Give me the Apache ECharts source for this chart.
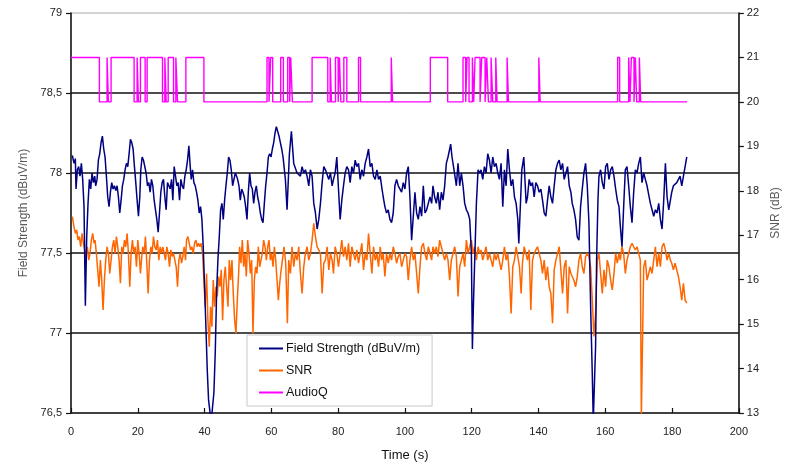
<!DOCTYPE html>
<html>
<head>
<meta charset="utf-8">
<script src="https://cdn.jsdelivr.net/npm/echarts@6/dist/echarts.min.js"></script>
<style>
  html, body { margin: 0; padding: 0; background: #fff; }
  #chart { width: 790px; height: 470px; }
</style>
</head>
<body>
<div id="chart"></div>
<script>
// Field strength measurement (dBuV/m), left axis
const fsTime = [0.4,0.9,1.3,1.5,1.9,2.3,2.7,3.1,3.5,3.9,4.3,4.7,5.1,5.5,5.9,6.3,6.7,7.1,7.4,7.8,8.2,8.6,9.0,9.4,9.8,10.2,10.6,11.0,11.4,11.8,12.2,12.6,13.0,13.4,13.8,14.2,14.6,15.0,15.4,15.8,16.2,16.6,17.0,17.4,17.8,18.2,18.6,19.0,19.4,19.8,20.2,20.6,20.9,21.3,21.7,22.1,22.5,22.9,23.3,23.7,24.1,24.5,24.9,25.3,25.7,26.1,26.5,26.9,27.3,27.7,28.1,28.5,28.9,29.3,29.7,30.1,30.5,30.9,31.3,31.7,32.1,32.5,32.9,33.3,33.7,34.1,34.5,34.9,35.3,35.7,36.0,36.4,36.8,37.2,37.6,38.0,38.4,38.8,39.2,39.6,40.0,40.4,40.8,41.2,41.6,42.0,42.4,42.8,43.2,43.6,44.0,44.4,44.8,45.2,45.6,46.0,46.4,46.8,47.2,47.6,48.0,48.4,48.8,49.2,49.6,49.9,50.3,50.7,51.1,51.5,51.9,52.3,52.7,53.1,53.5,53.9,54.3,54.7,55.1,55.5,55.9,56.3,56.7,57.1,57.5,57.9,58.3,58.7,59.1,59.5,59.9,60.3,60.7,61.1,61.5,61.9,62.3,62.7,63.1,63.5,63.8,64.2,64.7,65.4,66.0,66.7,67.2,67.7,68.2,68.7,69.2,69.7,70.2,70.7,71.2,71.7,72.2,72.7,73.2,73.7,74.2,74.7,75.2,75.7,76.2,76.7,77.2,77.7,78.2,78.6,79.1,79.6,80.1,80.6,81.1,81.6,82.1,82.6,83.1,83.6,84.1,84.6,85.1,85.6,86.1,86.6,87.1,87.6,88.1,88.6,89.1,89.6,90.1,90.6,91.1,91.6,92.1,92.6,93.0,93.5,94.0,94.5,95.0,95.5,96.0,96.5,97.0,97.5,98.0,98.5,99.0,99.5,100.0,100.5,101.0,101.5,102.0,102.5,103.0,103.5,104.0,104.5,105.0,105.5,106.0,106.5,107.0,107.5,108.0,108.4,108.9,109.4,109.9,110.4,110.9,111.4,111.9,112.4,112.9,113.4,113.7,114.1,114.7,115.4,115.9,116.4,116.9,117.4,117.9,118.4,118.9,119.4,119.9,120.2,120.5,120.9,121.4,121.9,122.4,122.8,123.3,123.8,124.3,124.8,125.3,125.8,126.3,126.8,127.3,127.8,128.3,128.8,129.3,129.8,130.3,130.8,131.3,131.8,132.3,132.8,133.3,133.8,134.1,134.6,135.0,135.6,136.0,136.3,136.7,137.2,137.7,138.2,138.7,139.2,139.7,140.2,140.7,141.2,141.7,142.2,142.7,143.2,143.7,144.2,144.7,145.2,145.7,146.2,146.7,147.2,147.7,148.2,148.7,149.2,149.7,150.1,150.6,151.1,151.6,152.1,152.6,153.1,153.6,154.1,154.6,155.1,155.6,156.1,156.4,156.8,157.1,157.4,157.8,158.1,158.6,159.1,159.6,160.1,160.6,161.1,161.6,162.1,162.6,163.1,163.6,164.1,164.5,165.0,165.5,166.0,166.5,167.0,167.5,168.0,168.5,169.0,169.5,170.0,170.5,171.0,171.5,172.0,172.5,173.0,173.5,174.0,174.5,175.0,175.5,176.0,176.5,177.0,177.5,178.0,178.5,179.0,179.5,179.9,180.4,180.9,181.4,181.9,182.4,182.9,183.4,183.9,184.4];
const fsValue = [78.11,78.06,78.09,77.90,78.02,78.04,77.98,78.06,77.96,77.79,77.17,77.60,77.81,77.96,77.90,78.00,77.94,77.98,77.92,77.96,78.08,78.12,78.19,78.23,78.15,78.10,77.98,77.85,77.79,77.88,77.94,77.90,77.92,77.89,77.92,77.85,77.75,77.83,77.92,77.96,78.02,78.06,78.04,78.12,78.21,78.19,78.15,78.04,77.94,77.83,77.73,77.85,78.02,78.10,78.08,78.04,78.00,77.92,77.94,77.88,77.96,77.92,77.83,77.77,77.71,77.63,77.75,77.88,77.94,77.96,77.85,77.77,77.94,77.92,77.90,77.96,77.83,78.04,77.98,77.92,77.94,77.83,77.96,77.92,77.90,77.98,78.02,78.08,78.17,78.04,77.96,78.02,77.94,77.92,77.88,77.83,77.75,77.79,77.71,77.54,77.29,77.04,76.77,76.58,76.51,76.45,76.45,76.63,76.88,77.25,77.46,77.60,77.77,77.81,77.71,77.83,77.92,78.00,78.10,78.08,78.02,77.92,77.96,78.00,77.98,77.96,77.92,77.83,77.90,77.88,77.85,77.79,77.71,77.88,78.00,77.92,77.90,77.81,77.88,77.92,77.85,77.81,77.75,77.71,77.69,77.81,77.92,78.00,78.10,78.12,78.10,78.15,78.19,78.25,78.29,78.30,78.23,78.19,78.15,78.10,78.04,77.96,77.77,78.12,78.26,78.06,78.06,78.00,78.00,77.98,78.04,78.00,78.02,77.98,77.92,78.02,77.98,77.81,77.75,77.65,77.71,77.81,77.94,78.04,78.02,78.02,77.96,78.00,77.92,77.96,78.00,78.10,77.90,77.71,77.83,77.92,78.00,78.04,78.02,77.94,78.04,78.00,78.08,78.04,78.06,77.96,78.02,77.98,78.06,78.10,78.15,78.04,78.06,77.98,77.96,78.02,77.96,77.98,77.92,77.85,77.79,77.75,77.77,77.71,77.69,77.75,77.92,77.96,77.92,77.92,77.88,77.94,77.90,78.00,78.04,77.85,77.58,77.73,77.88,77.75,77.71,77.79,77.73,77.92,77.75,77.77,77.81,77.85,77.81,77.92,77.85,77.81,77.88,77.77,77.88,77.83,77.92,78.06,78.10,78.15,78.18,78.10,78.02,77.92,78.06,77.92,78.00,77.92,77.81,77.77,77.75,77.71,77.50,76.90,77.17,77.46,77.81,78.02,78.00,78.02,77.96,78.04,78.00,78.12,78.08,78.00,78.10,78.04,78.06,78.00,77.96,78.06,77.79,78.02,77.92,78.15,78.02,77.92,77.96,77.85,77.81,77.71,77.56,77.81,78.02,78.10,78.11,77.81,77.85,77.96,77.92,77.94,77.85,77.94,77.92,77.88,77.90,77.83,77.75,77.73,77.83,77.92,77.85,77.81,77.92,78.02,78.06,78.08,78.02,78.06,77.96,78.00,78.04,77.92,77.88,77.81,77.77,77.71,77.60,77.58,77.79,77.90,78.00,78.06,77.92,77.69,77.17,76.75,76.45,76.45,76.92,77.46,77.83,77.98,78.02,77.94,77.90,78.04,78.06,77.96,78.02,78.04,77.98,77.90,77.83,77.79,77.67,77.54,77.79,78.02,78.04,77.92,77.79,77.69,77.88,78.02,78.00,78.06,78.10,77.94,78.00,77.96,77.92,77.92,77.81,77.77,77.73,77.77,77.75,77.81,77.71,77.65,77.83,78.06,77.85,77.77,77.83,77.88,77.92,77.92,77.94,77.96,77.98,77.92,77.98,78.04,78.10];

// Signal-to-noise ratio (dB), right axis
const snrTime = [0.4,0.9,1.3,1.7,2.1,2.5,2.9,3.3,3.7,4.1,4.5,4.9,5.3,5.7,6.1,6.5,6.9,7.2,7.6,8.0,8.4,8.8,9.2,9.6,10.0,10.4,10.8,11.2,11.6,12.0,12.4,12.8,13.2,13.6,14.0,14.4,14.8,15.2,15.6,16.0,16.4,16.8,17.2,17.6,18.0,18.4,18.8,19.2,19.6,20.0,20.4,20.8,21.1,21.5,21.9,22.3,22.7,23.1,23.5,23.9,24.3,24.7,25.1,25.5,25.9,26.3,26.7,27.1,27.5,27.9,28.3,28.7,29.1,29.5,29.9,30.3,30.7,31.1,31.5,31.9,32.3,32.7,33.1,33.5,33.9,34.3,34.6,35.0,35.4,35.8,36.2,36.6,37.0,37.4,37.8,38.2,38.6,39.0,39.4,39.8,40.2,40.6,41.0,41.4,41.8,42.2,42.6,43.0,43.4,43.8,44.2,44.6,45.0,45.4,45.8,46.2,46.6,47.0,47.4,47.8,48.2,48.6,49.0,49.4,49.8,50.2,50.5,50.9,51.3,51.7,52.1,52.5,52.9,53.3,53.7,54.1,54.5,54.9,55.3,55.7,56.1,56.5,56.9,57.3,57.7,58.1,58.5,58.9,59.3,59.7,60.1,60.5,60.9,61.3,61.7,62.1,62.5,62.8,63.3,63.8,64.3,64.8,65.2,65.7,66.2,66.7,67.2,67.7,68.2,68.7,69.2,69.7,70.2,70.7,71.2,71.7,72.2,72.7,73.2,73.7,74.2,74.7,75.2,75.7,76.2,76.7,77.2,77.7,78.2,78.6,79.1,79.6,80.1,80.6,81.1,81.6,82.1,82.6,83.1,83.6,84.1,84.6,85.1,85.6,86.1,86.6,87.1,87.6,88.1,88.6,89.1,89.6,90.1,90.6,91.1,91.6,92.1,92.6,93.0,93.5,94.0,94.5,95.0,95.5,96.0,96.5,97.0,97.5,98.0,98.5,99.0,99.5,100.0,100.5,101.0,101.5,102.0,102.5,103.0,103.5,104.0,104.5,105.0,105.5,106.0,106.5,107.0,107.5,108.0,108.4,108.9,109.4,109.9,110.4,110.9,111.4,111.9,112.4,112.9,113.4,113.9,114.4,114.9,115.4,115.9,116.4,116.9,117.4,117.9,118.4,118.9,119.4,119.9,120.4,120.9,121.4,121.9,122.4,122.8,123.3,123.8,124.3,124.8,125.3,125.8,126.3,126.8,127.3,127.8,128.3,128.8,129.3,129.8,130.3,130.8,131.3,131.8,132.3,132.8,133.3,133.8,134.3,134.8,135.2,135.7,136.2,136.7,137.2,137.7,138.2,138.7,139.2,139.7,140.2,140.7,141.2,141.7,142.2,142.7,143.2,143.7,144.2,144.7,145.2,145.7,146.2,146.7,147.2,147.7,148.2,148.7,149.2,149.7,150.1,150.6,151.1,151.6,152.1,152.6,153.1,153.6,154.1,154.6,155.1,155.6,156.1,156.6,157.1,157.6,158.1,158.6,159.1,159.6,160.1,160.6,161.1,161.6,162.1,162.6,163.1,163.6,164.1,164.5,165.0,165.5,166.0,166.5,167.0,167.5,168.0,168.5,169.0,169.5,170.0,170.5,170.8,171.1,171.5,172.0,172.5,173.0,173.5,174.0,174.5,175.0,175.5,176.0,176.5,177.0,177.5,178.0,178.5,179.0,179.5,179.9,180.4,180.9,181.4,181.9,182.4,182.9,183.4,183.9,184.4];
const snrValue = [17.42,17.19,17.04,17.12,16.89,16.97,16.74,17.04,16.82,16.67,16.52,16.74,16.44,16.59,16.89,17.04,16.82,16.89,16.59,16.22,15.84,16.44,15.99,15.32,15.99,16.44,16.74,16.59,16.14,16.44,16.74,16.89,16.59,16.97,16.74,16.44,15.92,16.74,16.59,16.89,16.74,17.04,16.59,15.84,16.59,16.89,16.59,16.74,16.29,16.89,16.59,16.14,16.44,16.74,16.59,16.97,16.37,15.69,16.44,16.74,16.59,16.97,16.74,16.67,16.89,16.44,16.74,16.59,16.74,16.59,16.44,16.74,16.59,16.29,16.67,16.52,16.59,16.44,16.29,15.84,16.44,16.59,16.37,16.52,16.74,16.44,16.89,16.97,16.82,16.67,16.74,16.59,16.82,16.89,16.74,16.82,16.74,16.82,16.59,15.99,15.39,16.14,15.09,14.49,15.39,14.94,15.99,15.39,15.84,15.62,16.07,15.84,16.22,15.09,15.99,16.29,15.84,15.39,16.44,15.99,16.44,15.69,15.09,14.79,15.54,16.14,16.74,16.37,16.89,16.29,16.59,16.07,16.89,16.59,16.14,16.44,14.79,15.99,16.29,16.14,16.74,16.29,16.44,16.59,16.89,16.74,16.44,16.74,16.89,16.44,16.59,16.29,16.74,16.44,15.99,15.54,15.92,16.14,16.44,16.74,16.37,15.02,16.44,16.14,16.74,16.29,16.59,16.44,16.74,16.14,15.69,16.29,16.59,16.74,16.44,16.59,16.89,17.27,16.97,16.74,16.67,16.59,15.69,16.37,16.44,16.74,16.22,16.59,16.44,16.14,16.74,16.59,16.29,16.59,16.89,16.52,16.74,16.44,16.82,16.29,16.74,16.59,16.44,16.67,16.37,16.59,16.82,16.22,16.59,16.44,17.04,16.59,16.14,16.74,16.44,16.59,16.29,16.74,16.44,16.59,16.07,16.59,16.37,16.59,16.44,16.74,16.59,16.37,16.52,16.59,16.29,16.44,16.59,16.52,15.99,16.44,16.74,16.44,16.59,16.14,15.69,16.29,16.74,16.82,16.59,16.44,16.74,16.59,16.44,16.74,16.59,16.74,16.52,16.89,16.74,16.59,16.44,16.59,16.44,15.99,16.44,16.59,16.74,16.52,15.62,16.29,16.44,16.59,16.29,16.89,16.59,16.74,16.89,16.59,16.74,16.44,16.74,16.59,16.67,16.44,16.59,16.74,16.44,16.59,16.44,16.29,16.59,16.44,16.59,16.59,16.22,16.44,16.74,16.44,16.59,16.07,15.24,16.29,16.44,16.74,16.52,16.29,15.69,16.37,16.74,16.59,16.44,16.67,15.32,16.44,16.59,16.67,16.74,16.59,16.44,16.14,16.44,15.99,16.29,15.84,15.69,15.02,16.22,16.44,16.59,16.74,16.22,15.69,16.29,16.44,15.24,16.29,16.14,16.07,15.99,15.84,16.07,16.44,16.59,16.29,16.14,16.52,16.59,16.52,16.29,15.54,14.72,15.24,16.44,16.59,16.14,15.69,16.22,15.84,16.44,16.29,15.99,15.77,16.14,16.59,16.37,16.59,16.44,16.74,16.59,16.14,16.44,16.59,16.74,16.82,16.74,16.67,16.74,16.59,16.44,12.9,12.9,16.29,16.44,15.99,16.14,16.29,16.14,16.44,16.74,16.29,16.59,16.29,16.74,16.82,16.67,16.44,16.59,16.44,16.37,16.22,16.37,16.22,16.07,15.84,15.54,15.92,15.54,15.47];

// Audio quality flag, right axis (level held until the next change)
const audioTime = [0,8.5,10.8,11.2,12.0,18.9,19.8,20.2,20.8,22.2,22.8,27.4,28.1,28.5,29.1,30.7,31.4,31.9,34.4,39.8,58.7,59.3,59.8,60.4,62.8,63.6,64.9,65.5,65.8,66.3,72.2,76.9,77.6,78.0,79.2,80.0,80.4,80.8,81.7,82.6,86.1,86.7,95.9,96.3,107.6,112.8,117.4,118.2,118.6,119.2,120.2,120.6,121.0,122.5,123.0,124.0,124.5,125.0,125.8,126.3,127.2,127.6,130.6,131.0,140.1,140.5,163.7,164.3,167.0,167.4,167.8,168.6,169.0,169.4,170.2,170.6,184.5];
const audioLevel = [21,20,21,20,21,20,21,20,21,20,21,20,21,20,21,20,21,20,21,20,21,20,21,20,21,20,21,20,21,20,21,20,21,20,21,20,21,20,21,20,21,20,21,20,21,20,21,20,21,20,21,20,21,20,21,20,21,20,21,20,21,20,21,20,21,20,21,20,21,20,21,20,21,20,21,20,20];

const timeTicks = { min: 0, max: 200, interval: 20 };
const fieldTicks = { min: 76.5, max: 79, interval: 0.5 };
const snrTicks = { min: 13, max: 22, interval: 1 };

const pairs = (xs, ys) => xs.map((x, i) => [x, ys[i]]);
const commaDecimal = v => String(v).replace('.', ',');

const FONT = 'Liberation Sans';
const chart = echarts.init(document.getElementById('chart'), null, { renderer: 'canvas' });

chart.setOption({
  animation: false,
  backgroundColor: '#ffffff',
  textStyle: { fontFamily: FONT },
  grid: {
    left: 71, right: 48, top: 13, bottom: 57,
    show: true, borderColor: '#a8a8a8', borderWidth: 1
  },
  legend: {
    orient: 'vertical',
    left: 247, top: 335,
    padding: [7, 12, 7, 12],
    icon: 'rect',
    itemWidth: 24, itemHeight: 2, itemGap: 9,
    borderColor: '#c8c8c8', borderWidth: 1,
    backgroundColor: '#ffffff',
    textStyle: { fontFamily: FONT, fontSize: 12.5, color: '#111', padding: [0, 0, 0, -2] },
    data: ['Field Strength (dBuV/m)', 'SNR', 'AudioQ']
  },
  xAxis: {
    type: 'value',
    min: timeTicks.min, max: timeTicks.max, interval: timeTicks.interval,
    name: 'Time (s)', nameLocation: 'middle', nameGap: 36,
    nameTextStyle: { fontFamily: FONT, fontSize: 13, color: '#111' },
    axisLine: { onZero: false, lineStyle: { color: '#111', width: 1.5 } },
    axisTick: { inside: true, length: 5, lineStyle: { color: '#111', width: 1.2 } },
    axisLabel: { fontFamily: FONT, fontSize: 11, color: '#222', margin: 13 },
    splitLine: { show: false }
  },
  yAxis: [
    {
      type: 'value', position: 'left',
      min: fieldTicks.min, max: fieldTicks.max, interval: fieldTicks.interval,
      name: 'Field Strength (dBuV/m)', nameLocation: 'middle', nameGap: 36, nameRotate: 90,
      nameTextStyle: { fontFamily: FONT, fontSize: 12, color: '#5a5a5a' },
      axisLine: { show: true, lineStyle: { color: '#111', width: 1.5 } },
      axisTick: { show: true, length: 5, lineStyle: { color: '#111', width: 1.2 } },
      axisLabel: { fontFamily: FONT, fontSize: 11, color: '#222', margin: 9, formatter: commaDecimal },
      splitLine: { show: true, showMinLine: false, showMaxLine: false, lineStyle: { color: '#111', width: 1.5 } }
    },
    {
      type: 'value', position: 'right',
      min: snrTicks.min, max: snrTicks.max, interval: snrTicks.interval,
      name: 'SNR (dB)', nameLocation: 'middle', nameGap: 25, nameRotate: 90,
      nameTextStyle: { fontFamily: FONT, fontSize: 12, color: '#5a5a5a' },
      axisLine: { show: true, lineStyle: { color: '#111', width: 1.5 } },
      axisTick: { show: true, length: 5, lineStyle: { color: '#111', width: 1.2 } },
      axisLabel: { fontFamily: FONT, fontSize: 11, color: '#222', margin: 8 },
      splitLine: { show: false }
    }
  ],
  series: [
    {
      name: 'Field Strength (dBuV/m)', type: 'line', yAxisIndex: 0,
      symbol: 'none', clip: true,
      lineStyle: { color: '#000080', width: 1.5 },
      itemStyle: { color: '#000080' },
      data: pairs(fsTime, fsValue), z: 3
    },
    {
      name: 'SNR', type: 'line', yAxisIndex: 1,
      symbol: 'none', clip: true,
      lineStyle: { color: '#ff6600', width: 1.5 },
      itemStyle: { color: '#ff6600' },
      data: pairs(snrTime, snrValue), z: 2
    },
    {
      name: 'AudioQ', type: 'line', yAxisIndex: 1,
      symbol: 'none', step: 'end', clip: true,
      lineStyle: { color: '#ff00ff', width: 1.4 },
      itemStyle: { color: '#ff00ff' },
      data: pairs(audioTime, audioLevel), z: 2
    }
  ]
});
</script>
</body>
</html>
